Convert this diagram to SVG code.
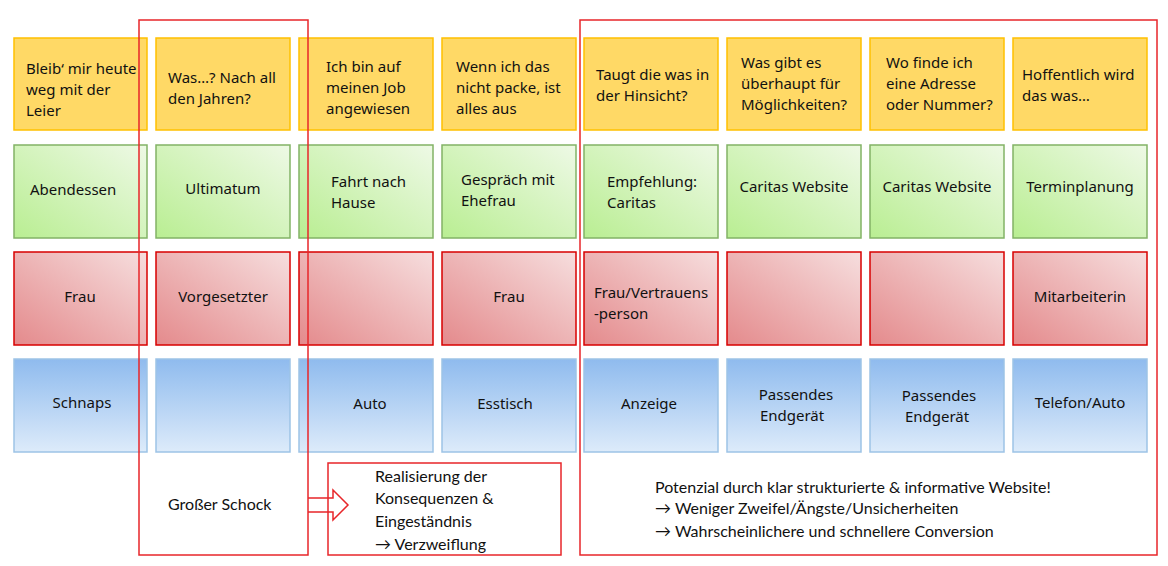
<svg xmlns="http://www.w3.org/2000/svg" width="1168" height="566" viewBox="0 0 1168 566">
<style>
.c{stroke-width:1.5}
.y{fill:#FFD966;stroke:#FFC000}
.g{fill:url(#gg);stroke:#82B366}
.r{fill:url(#gr);stroke:#D80000}
.b{fill:url(#gb);stroke:#9DC3E6}
text{font-family:"Noto Sans","DejaVu Sans",sans-serif;font-size:15px;fill:#111}
.t{font-family:Lato,"Liberation Sans",sans-serif;font-size:16px}
.o{fill:none;stroke:#E8262A;stroke-width:1.5}
</style>
<defs>
<linearGradient id="gg" x1="0" y1="1" x2="1" y2="0"><stop offset="0" stop-color="#B9EE92"/><stop offset="1" stop-color="#EEF9E6"/></linearGradient>
<linearGradient id="gr" x1="0" y1="1" x2="1" y2="0"><stop offset="0" stop-color="#E48A8C"/><stop offset="1" stop-color="#F6DEDE"/></linearGradient>
<linearGradient id="gb" x1="0" y1="0" x2="0" y2="1"><stop offset="0" stop-color="#8FBBEE"/><stop offset="1" stop-color="#DDEBFA"/></linearGradient>
</defs>
<rect width="1168" height="566" fill="#fff"/>
<g id="row-yellow">
<g id="y1"><rect class="c y" x="14" y="38" width="133" height="92"/><text x="26" y="74">Bleib‘ mir heute</text><text x="26" y="95">weg mit der</text><text x="26" y="116">Leier</text></g>
<g id="y2"><rect class="c y" x="156" y="38" width="134" height="92"/><text x="168" y="83">Was…? Nach all</text><text x="168" y="104">den Jahren?</text></g>
<g id="y3"><rect class="c y" x="299" y="38" width="134" height="92"/><text x="326" y="72">Ich bin auf</text><text x="326" y="93">meinen Job</text><text x="326" y="114">angewiesen</text></g>
<g id="y4"><rect class="c y" x="442" y="38" width="134" height="92"/><text x="456" y="72">Wenn ich das</text><text x="456" y="93">nicht packe, ist</text><text x="456" y="114">alles aus</text></g>
<g id="y5"><rect class="c y" x="584" y="38" width="134" height="92"/><text x="596" y="80">Taugt die was in</text><text x="596" y="101">der Hinsicht?</text></g>
<g id="y6"><rect class="c y" x="727" y="38" width="134" height="92"/><text x="741" y="68">Was gibt es</text><text x="741" y="89">überhaupt für</text><text x="741" y="110">Möglichkeiten?</text></g>
<g id="y7"><rect class="c y" x="870" y="38" width="134" height="92"/><text x="886" y="68">Wo finde ich</text><text x="886" y="89">eine Adresse</text><text x="886" y="110">oder Nummer?</text></g>
<g id="y8"><rect class="c y" x="1013" y="38" width="134" height="92"/><text x="1022" y="80">Hoffentlich wird</text><text x="1022" y="101">das was…</text></g>
</g>
<g id="row-green">
<g id="g1"><rect class="c g" x="14" y="145" width="133" height="93"/><text x="30" y="195">Abendessen</text></g>
<g id="g2"><rect class="c g" x="156" y="145" width="134" height="93"/><text x="223" y="194" text-anchor="middle">Ultimatum</text></g>
<g id="g3"><rect class="c g" x="299" y="145" width="134" height="93"/><text x="331" y="187">Fahrt nach</text><text x="331" y="208">Hause</text></g>
<g id="g4"><rect class="c g" x="442" y="145" width="134" height="93"/><text x="461" y="185">Gespräch mit</text><text x="461" y="206">Ehefrau</text></g>
<g id="g5"><rect class="c g" x="584" y="145" width="134" height="93"/><text x="607" y="187">Empfehlung:</text><text x="607" y="208">Caritas</text></g>
<g id="g6"><rect class="c g" x="727" y="145" width="134" height="93"/><text x="794" y="192" text-anchor="middle">Caritas Website</text></g>
<g id="g7"><rect class="c g" x="870" y="145" width="134" height="93"/><text x="937" y="192" text-anchor="middle">Caritas Website</text></g>
<g id="g8"><rect class="c g" x="1013" y="145" width="134" height="93"/><text x="1080" y="192" text-anchor="middle">Terminplanung</text></g>
</g>
<g id="row-red">
<g id="r1"><rect class="c r" x="14" y="252" width="133" height="93"/><text x="80" y="302" text-anchor="middle">Frau</text></g>
<g id="r2"><rect class="c r" x="156" y="252" width="134" height="93"/><text x="223" y="302" text-anchor="middle">Vorgesetzter</text></g>
<g id="r3"><rect class="c r" x="299" y="252" width="134" height="93"/></g>
<g id="r4"><rect class="c r" x="442" y="252" width="134" height="93"/><text x="509" y="302" text-anchor="middle">Frau</text></g>
<g id="r5"><rect class="c r" x="584" y="252" width="134" height="93"/><text x="594" y="298">Frau/Vertrauens</text><text x="594" y="319">-person</text></g>
<g id="r6"><rect class="c r" x="727" y="252" width="134" height="93"/></g>
<g id="r7"><rect class="c r" x="870" y="252" width="134" height="93"/></g>
<g id="r8"><rect class="c r" x="1013" y="252" width="134" height="93"/><text x="1080" y="302" text-anchor="middle">Mitarbeiterin</text></g>
</g>
<g id="row-blue">
<g id="b1"><rect class="c b" x="14" y="359" width="133" height="93"/><text x="82" y="408" text-anchor="middle">Schnaps</text></g>
<g id="b2"><rect class="c b" x="156" y="359" width="134" height="93"/></g>
<g id="b3"><rect class="c b" x="299" y="359" width="134" height="93"/><text x="370" y="409" text-anchor="middle">Auto</text></g>
<g id="b4"><rect class="c b" x="442" y="359" width="134" height="93"/><text x="505" y="409" text-anchor="middle">Esstisch</text></g>
<g id="b5"><rect class="c b" x="584" y="359" width="134" height="93"/><text x="649" y="409" text-anchor="middle">Anzeige</text></g>
<g id="b6"><rect class="c b" x="727" y="359" width="134" height="93"/><text x="796" y="400" text-anchor="middle">Passendes</text><text x="792" y="421" text-anchor="middle">Endgerät</text></g>
<g id="b7"><rect class="c b" x="870" y="359" width="134" height="93"/><text x="939" y="401" text-anchor="middle">Passendes</text><text x="937" y="422" text-anchor="middle">Endgerät</text></g>
<g id="b8"><rect class="c b" x="1013" y="359" width="134" height="93"/><text x="1080" y="408" text-anchor="middle">Telefon/Auto</text></g>
</g>
<g id="frames">
<rect class="o" x="139" y="20" width="169" height="535"/>
<rect class="o" x="580" y="20" width="577" height="535"/>
</g>
<g id="shock"><text class="t" x="168" y="510">Großer Schock</text></g>
<g id="connectors"><path class="o" d="M308,498 H333 V490 L348,505 L333,520 V512 H308"/></g>
<g id="realisierung"><rect class="o" x="328" y="463" width="233" height="92"/>
<text class="t" x="375" y="482">Realisierung der</text><text class="t" x="375" y="504">Konsequenzen &amp;</text><text class="t" x="375" y="527">Eingeständnis</text><text class="t" x="375" y="550">→ Verzweiflung</text></g>
<g id="potenzial"><text class="t" x="655" y="493">Potenzial durch klar strukturierte &amp; informative Website!</text>
<text class="t" x="655" y="514">→  Weniger Zweifel/Ängste/Unsicherheiten</text>
<text class="t" x="655" y="537">→  Wahrscheinlichere und schnellere Conversion</text></g>
</svg>
